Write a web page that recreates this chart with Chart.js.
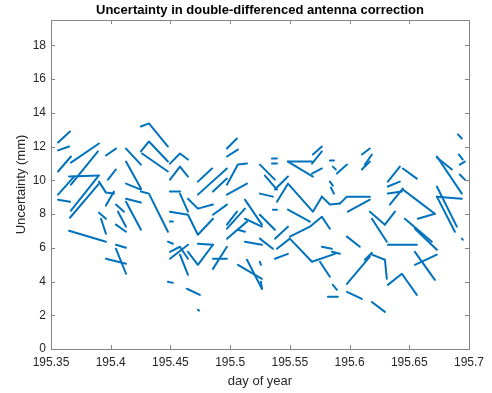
<!DOCTYPE html>
<html>
<head>
<meta charset="utf-8">
<script src="https://cdn.jsdelivr.net/npm/chart.js@4.4.1/dist/chart.umd.min.js"></script>
<style>
  html, body { margin: 0; padding: 0; background: #fff; }
  #wrap { width: 492px; height: 393px; }
</style>
</head>
<body>
<div id="wrap"><canvas id="chart"></canvas></div>
<script>
// tick positions and labels
const xTicks = [195.35, 195.4, 195.45, 195.5, 195.55, 195.6, 195.65, 195.7];
const xTickLabels = ['195.35', '195.4', '195.45', '195.5', '195.55', '195.6', '195.65', '195.7'];
const yTicks = [0, 2, 4, 6, 8, 10, 12, 14, 16, 18];

// each arc: day of year values and matching uncertainty (mm)
const arcDays = [
  [195.3559, 195.3659], [195.3559, 195.3651], [195.3559, 195.3667], [195.3667, 195.3902],
  [195.3559, 195.3693], [195.3651, 195.3902], [195.3667, 195.3893], [195.3667, 195.3893],
  [195.3659, 195.3902], [195.3559, 195.3659], [195.3902, 195.3960, 195.4027], [195.3960, 195.4027],
  [195.3651, 195.3960], [195.3902, 195.3960], [195.3919, 195.3960], [195.3960, 195.4044],
  [195.3977, 195.4044], [195.4044, 195.4111], [195.4061, 195.4128], [195.4044, 195.4128],
  [195.4044, 195.4128], [195.3960, 195.4128], [195.4044, 195.4128], [195.4128, 195.4253],
  [195.4128, 195.4253], [195.4128, 195.4253], [195.4128, 195.4253], [195.4128, 195.4253],
  [195.4253, 195.4320, 195.4479], [195.4253, 195.4320, 195.4479], [195.4253, 195.4320, 195.4479],
  [195.4496, 195.4580, 195.4647], [195.4496, 195.4580, 195.4647], [195.4730, 195.4848],
  [195.4730, 195.4973], [195.4856, 195.4973], [195.4973, 195.5057], [195.4973, 195.5065],
  [195.4973, 195.5065, 195.5141], [195.4973, 195.5141], [195.4496, 195.4580], [195.4580, 195.4647],
  [195.4647, 195.4730, 195.4856], [195.4496, 195.4647, 195.4730, 195.4856], [195.4496, 195.4521],
  [195.4856, 195.4973], [195.4973, 195.5124], [195.4973, 195.5141], [195.4973, 195.5057],
  [195.5124, 195.5266], [195.5124, 195.5266], [195.5065, 195.5124], [195.4479, 195.4521],
  [195.4496, 195.4580, 195.4647], [195.4496, 195.4647], [195.4580, 195.4647],
  [195.4647, 195.4730, 195.4856], [195.4730, 195.4856], [195.4856, 195.4973], [195.4856, 195.4973],
  [195.5065, 195.5266], [195.5141, 195.5266], [195.5124, 195.5266], [195.4479, 195.4521],
  [195.4638, 195.4747], [195.4730, 195.4740], [195.5693, 195.5768], [195.5685, 195.5768],
  [195.5484, 195.5685], [195.5484, 195.5693], [195.5350, 195.5392], [195.5350, 195.5392],
  [195.5685, 195.5768], [195.5249, 195.5375], [195.5291, 195.5392], [195.5249, 195.5358],
  [195.5375, 195.5484], [195.5392, 195.5484, 195.5693, 195.5768], [195.5768, 195.5835, 195.5919],
  [195.5835, 195.5869], [195.5860, 195.5885], [195.5894, 195.5978], [195.5835, 195.5860],
  [195.5844, 195.5869], [195.5919, 195.5978, 195.6170], [195.5484, 195.5668], [195.5358, 195.5392],
  [195.5249, 195.5375], [195.5375, 195.5484], [195.5500, 195.5668, 195.5768, 195.5835],
  [195.5392, 195.5500, 195.5685, 195.5877], [195.5375, 195.5484], [195.5249, 195.5358],
  [195.5752, 195.5835], [195.5768, 195.5852], [195.5852, 195.5919], [195.5978, 195.6086],
  [195.5978, 195.6170], [195.5978, 195.6103], [195.5819, 195.5902], [195.5860, 195.5894],
  [195.5249, 195.5258], [195.5258, 195.5266], [195.5986, 195.6170], [195.6103, 195.6170],
  [195.6103, 195.6170], [195.6128, 195.6187], [195.6321, 195.6421], [195.6446, 195.6563],
  [195.6321, 195.6421], [195.6321, 195.6438], [195.6337, 195.6446], [195.6446, 195.6547, 195.6714],
  [195.6572, 195.6714], [195.6170, 195.6296], [195.6187, 195.6312], [195.6296, 195.6380],
  [195.6321, 195.6438], [195.6446, 195.6563], [195.6463, 195.6689], [195.6547, 195.6731],
  [195.6547, 195.6731], [195.6547, 195.6714], [195.6321, 195.6438, 195.6563], [195.6187, 195.6296],
  [195.6187, 195.6296, 195.6312], [195.6128, 195.6187], [195.6731, 195.6940], [195.6731, 195.6857],
  [195.6731, 195.6898], [195.6731, 195.6882], [195.6731, 195.6940], [195.6907, 195.6940],
  [195.6915, 195.6948], [195.6923, 195.6965], [195.6923, 195.6965], [195.6940, 195.6948],
  [195.4262, 195.4479]
];
const arcUnc = [
  [12.24, 12.89], [11.77, 12.00], [10.52, 11.41], [11.05, 12.18],
  [9.15, 10.22], [10.22, 10.28], [9.74, 11.71], [8.20, 10.22],
  [7.78, 9.80], [8.85, 8.73], [9.92, 9.27, 9.21], [8.50, 9.33],
  [7.01, 6.36], [8.08, 7.72], [7.72, 6.83], [11.47, 11.88],
  [10.04, 10.64], [8.56, 8.14], [8.14, 7.25], [7.37, 6.95],
  [6.18, 6.00], [5.35, 5.05], [5.94, 4.46], [11.88, 10.93],
  [11.11, 9.51], [9.80, 9.45], [8.91, 8.68], [8.73, 7.07],
  [13.19, 13.37, 12.00], [11.71, 12.30, 11.11], [9.33, 9.21, 6.95],
  [10.99, 11.59, 11.23], [10.04, 10.81, 10.22], [9.92, 10.70],
  [9.15, 10.70], [9.33, 10.10], [11.88, 12.48], [11.41, 11.82],
  [9.74, 10.93, 10.99], [9.15, 9.80], [9.33, 9.33], [9.21, 8.14],
  [8.91, 8.32, 8.56], [8.14, 7.96, 6.77, 7.72], [7.55, 7.55],
  [7.96, 8.56], [7.13, 8.32], [6.54, 7.55], [7.37, 8.14],
  [8.85, 7.37], [7.72, 7.25], [7.07, 6.95], [6.36, 6.24],
  [5.76, 6.06, 5.35], [5.35, 6.18], [5.59, 4.40],
  [5.76, 4.99, 6.18], [6.24, 6.18], [4.75, 6.06], [5.35, 5.35],
  [4.99, 4.16], [5.29, 3.57], [6.36, 6.18], [3.98, 3.92],
  [3.57, 3.21], [2.32, 2.28], [11.53, 12.00], [10.99, 11.71],
  [11.11, 11.11], [11.11, 10.22], [11.29, 11.29], [11.00, 11.00],
  [10.40, 10.70], [10.93, 10.04], [10.28, 9.45], [9.21, 9.03],
  [9.45, 10.22], [8.73, 9.80, 8.14, 9.03], [9.03, 8.56, 8.62],
  [11.17, 11.17], [10.81, 10.64], [10.40, 10.93], [9.92, 9.68],
  [9.57, 9.21], [8.62, 9.03, 9.03], [8.26, 7.55], [8.26, 8.26],
  [7.96, 7.07], [6.54, 7.25], [6.66, 7.25, 7.84, 7.13],
  [5.94, 6.54, 5.17, 5.64], [5.35, 5.64], [6.54, 5.94],
  [5.17, 4.28], [6.06, 5.94], [5.76, 5.64], [6.66, 6.06],
  [3.86, 5.47], [3.39, 2.97], [3.09, 3.09], [3.80, 3.51],
  [5.17, 4.99], [3.98, 3.57], [8.14, 8.85], [11.53, 11.88],
  [10.64, 11.11], [10.93, 11.53], [9.92, 10.81], [10.70, 10.10],
  [9.63, 9.92], [9.21, 9.33], [8.56, 9.51], [9.45, 8.91, 8.02],
  [7.72, 8.02], [8.14, 7.37], [7.72, 6.36], [7.37, 8.14],
  [6.18, 6.18], [6.18, 6.18], [7.72, 6.36], [7.13, 5.88],
  [4.99, 5.59], [5.76, 4.10], [3.80, 4.46, 3.21], [2.79, 2.20],
  [5.59, 5.29, 4.16], [5.29, 5.70], [11.41, 9.21], [11.35, 10.64],
  [9.63, 7.25], [9.03, 6.95], [9.03, 8.91], [12.72, 12.48],
  [11.53, 11.23], [10.93, 11.11], [10.34, 10.04], [6.54, 6.48],
  [11.59, 10.52]
];

const lineColor = '#0072BD';
const textColor = '#262626';
const axisColor = '#858585';

const datasets = arcDays.map((days, i) => ({
  data: days.map((d, j) => ({ x: d, y: arcUnc[i][j] })),
  borderColor: lineColor,
  borderWidth: 2,
  pointRadius: 0,
  fill: false,
  tension: 0,
  borderCapStyle: 'round',
  borderJoinStyle: 'round'
}));

// MATLAB style box with inward ticks on all four sides
const boxPlugin = {
  id: 'box',
  afterDraw(chart) {
    const { ctx, chartArea: a, scales } = chart;
    ctx.save();
    ctx.strokeStyle = axisColor;
    ctx.lineWidth = 1;
    ctx.strokeRect(Math.round(a.left) + 0.5, Math.round(a.top) + 0.5,
      Math.round(a.right - a.left), Math.round(a.bottom - a.top));
    const len = 4;
    ctx.beginPath();
    xTicks.forEach(v => {
      const px = Math.round(scales.x.getPixelForValue(v)) + 0.5;
      ctx.moveTo(px, a.bottom); ctx.lineTo(px, a.bottom - len);
      ctx.moveTo(px, a.top); ctx.lineTo(px, a.top + len);
    });
    yTicks.forEach(v => {
      const py = Math.round(scales.y.getPixelForValue(v)) + 0.5;
      ctx.moveTo(a.left, py); ctx.lineTo(a.left + len, py);
      ctx.moveTo(a.right, py); ctx.lineTo(a.right - len, py);
    });
    ctx.stroke();
    ctx.restore();
  }
};

new Chart(document.getElementById('chart'), {
  type: 'line',
  data: { datasets },
  options: {
    responsive: true,
    maintainAspectRatio: false,
    animation: false,
    events: [],
    layout: { padding: { right: 23, top: 0, left: 0, bottom: 0 } },
    plugins: {
      legend: { display: false },
      tooltip: { enabled: false },
      title: {
        display: true,
        fullSize: false,
        text: 'Uncertainty in double-differenced antenna correction',
        color: '#000',
        font: { family: 'Liberation Sans, Arial, sans-serif', size: 13, weight: 'bold' },
        padding: { top: 3, bottom: 1.4 }
      }
    },
    scales: {
      x: {
        type: 'linear',
        min: 195.35,
        max: 195.7,
        grid: { display: false, drawTicks: false },
        border: { display: false },
        afterBuildTicks: s => { s.ticks = xTicks.map(v => ({ value: v })); },
        afterFit: s => { s.height = 44; },
        ticks: {
          color: textColor,
          padding: 6,
          maxRotation: 0,
          autoSkip: false,
          font: { family: 'Liberation Sans, Arial, sans-serif', size: 12 },
          callback: (v, i) => xTickLabels[i]
        },
        title: {
          display: true,
          text: 'day of year',
          color: textColor,
          font: { family: 'Liberation Sans, Arial, sans-serif', size: 13 },
          padding: { top: 0, bottom: 4 }
        }
      },
      y: {
        min: 0,
        max: 19.5,
        grid: { display: false, drawTicks: false },
        border: { display: false },
        afterBuildTicks: s => { s.ticks = yTicks.map(v => ({ value: v })); },
        afterFit: s => { s.width = 51; },
        ticks: {
          color: textColor,
          padding: 5,
          font: { family: 'Liberation Sans, Arial, sans-serif', size: 12 }
        },
        title: {
          display: true,
          text: 'Uncertainty (mm)',
          color: textColor,
          font: { family: 'Liberation Sans, Arial, sans-serif', size: 13 },
          padding: { top: 14, bottom: 0 }
        }
      }
    }
  },
  plugins: [boxPlugin]
});
</script>
</body>
</html>
